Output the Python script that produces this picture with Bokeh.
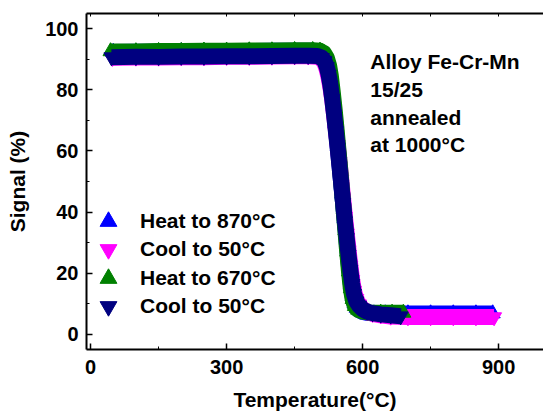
from bokeh.plotting import figure
from bokeh.models import Range1d, LinearAxis, FixedTicker, Legend, LegendItem, Label
from bokeh.embed import file_html
from bokeh.resources import INLINE

# ---- data ----
heat870_T = [50, 100, 150, 200, 250, 300, 350, 400, 450, 490,
             505, 513, 519, 524, 528, 532, 536, 540, 545, 550,
             555, 560, 565, 570, 574, 578, 582, 587, 593, 600,
             610, 625, 650, 700, 750, 800, 850, 887]
heat870_S = [92.4, 92.5, 92.5, 92.6, 92.6, 92.7, 92.7, 92.8, 92.8, 92.8,
             92.5, 91.6, 90.0, 87.8, 84.5, 80.0, 74.5, 69.0, 61.5, 54.0,
             46.0, 38.0, 30.0, 22.0, 16.5, 12.5, 10.0, 8.6, 7.8, 7.3,
             7.0, 6.8, 6.8, 6.8, 6.8, 6.8, 6.8, 6.8]

cool1_T = [890, 850, 800, 750, 700, 662, 640, 622, 610, 600,
           592, 586, 581, 577, 573, 569, 565, 561, 557, 553,
           549, 545, 541, 537, 533, 529, 525, 521, 516, 510,
           500, 480, 450, 400, 350, 300, 250, 200, 150, 100, 48]
cool1_S = [5.6, 5.6, 5.6, 5.6, 5.6, 5.8, 6.2, 6.7, 7.3, 8.3,
           9.8, 11.6, 14.2, 17.8, 22.5, 27.5, 33.0, 38.5, 44.5, 50.5,
           56.5, 62.0, 67.0, 72.0, 76.8, 80.8, 84.0, 86.6, 88.8, 90.1,
           90.8, 91.0, 91.0, 90.9, 90.8, 90.8, 90.7, 90.7, 90.6, 90.6, 90.5]

heat670_T = [44, 100, 150, 200, 250, 300, 350, 400, 450, 490,
             506, 515, 521, 526, 530, 534, 538, 542, 546, 550,
             554, 558, 562, 566, 570, 574, 578, 583, 590, 600,
             615, 640, 665, 690]
heat670_S = [92.6, 92.6, 92.7, 92.7, 92.8, 92.8, 92.9, 92.9, 93.0, 93.0,
             92.8, 92.0, 90.5, 88.0, 84.5, 79.5, 74.0, 68.0, 61.5, 55.0,
             48.0, 41.0, 34.0, 27.0, 20.5, 15.0, 11.5, 9.2, 8.0, 7.4,
             7.1, 7.0, 7.0, 7.0]

cool2_T = [684, 662, 640, 622, 610, 600, 592, 586, 581, 577,
           573, 569, 565, 561, 557, 553, 549, 545, 541, 537,
           533, 529, 525, 521, 516, 510, 500, 480, 450, 400,
           350, 300, 250, 200, 150, 100, 46]
cool2_S = [5.9, 6.2, 6.5, 6.9, 7.4, 8.2, 9.4, 10.8, 13.2, 16.5,
           21.0, 26.0, 31.5, 37.0, 43.0, 49.0, 55.0, 61.0, 66.5, 72.0,
           77.0, 81.5, 85.0, 87.5, 89.4, 90.5, 91.1, 91.2, 91.2, 91.1,
           91.0, 91.0, 90.9, 90.9, 90.8, 90.8, 90.7]

series_labels = ["Heat to 870°C", "Cool to 50°C", "Heat to 670°C", "Cool to 50°C"]
series_colors = ["#0000FF", "#FF00FF", "#008000", "#000080"]
series_markers = ["triangle", "inverted_triangle", "triangle", "inverted_triangle"]
series_T = [heat870_T, cool1_T, heat670_T, cool2_T]
series_S = [heat870_S, cool1_S, heat670_S, cool2_S]

x_ticks = [0, 300, 600, 900]
x_minor = [150, 450, 750]
top_ticks = [0, 150, 300, 450, 600, 750, 900]
y_ticks = [0, 20, 40, 60, 80, 100]
y_minor = [10, 30, 50, 70, 90]

note_lines = ["Alloy Fe-Cr-Mn", "15/25", "annealed", "at 1000°C"]
note_x = 617
note_y = [89.3, 80.1, 70.9, 62.1]

FONT = "Liberation Sans"

p = figure(width=543, height=414,
           x_range=Range1d(-9, 999), y_range=Range1d(-5, 105),
           output_backend="svg", toolbar_location=None,
           min_border_left=86, min_border_right=0,
           min_border_top=13, min_border_bottom=65,
           x_axis_label="Temperature(°C)", y_axis_label="Signal (%)")
p.grid.visible = False
p.outline_line_color = None
p.background_fill_color = "white"
p.border_fill_color = "white"

xa = p.below[0]
xa.ticker = FixedTicker(ticks=x_ticks, minor_ticks=x_minor)
ya = p.left[0]
ya.ticker = FixedTicker(ticks=y_ticks, minor_ticks=y_minor)
for ax in (xa, ya):
    ax.axis_line_width = 2
    ax.major_tick_in = 6
    ax.major_tick_out = 0
    ax.minor_tick_in = 3
    ax.minor_tick_out = 0
    ax.major_tick_line_width = 1.5
    ax.minor_tick_line_width = 1
    ax.major_label_text_font = FONT
    ax.major_label_text_font_style = "bold"
    ax.major_label_text_font_size = "20px"
    ax.major_label_text_color = "black"
    ax.axis_label_text_font = FONT
    ax.axis_label_text_font_style = "bold"
    ax.axis_label_text_font_size = "21px"
    ax.axis_label_text_color = "black"
xa.major_label_standoff = 10
ya.major_label_standoff = 8
xa.axis_label_standoff = 11
ya.axis_label_standoff = 13

top = LinearAxis(ticker=FixedTicker(ticks=[], minor_ticks=top_ticks),
                 major_tick_in=0, major_tick_out=0,
                 minor_tick_in=3, minor_tick_out=0, axis_line_width=2)
p.add_layout(top, "above")

legend_bottoms = [107, 79, 50, 22]
for T, S, c, m, lab, lb in zip(series_T, series_S, series_colors, series_markers,
                               series_labels, legend_bottoms):
    p.line(T, S, line_color=c, line_width=16, line_join="round", line_cap="butt")
    r = p.scatter(T, S, marker=m, size=15, fill_color=c, line_color=c)
    lg = Legend(items=[LegendItem(label=lab, renderers=[r])], location=(1, lb),
                glyph_width=42, glyph_height=42, label_standoff=11,
                padding=0, margin=0, border_line_color=None,
                background_fill_alpha=0,
                label_text_font=FONT, label_text_font_style="bold",
                label_text_font_size="21px", label_text_color="black")
    p.add_layout(lg)

for txt, yy in zip(note_lines, note_y):
    p.add_layout(Label(x=note_x, y=yy, text=txt, text_baseline="middle",
                       text_font=FONT, text_font_style="bold",
                       text_font_size="21px", text_color="black"))

open("out.html", "w").write(file_html(p, INLINE))
